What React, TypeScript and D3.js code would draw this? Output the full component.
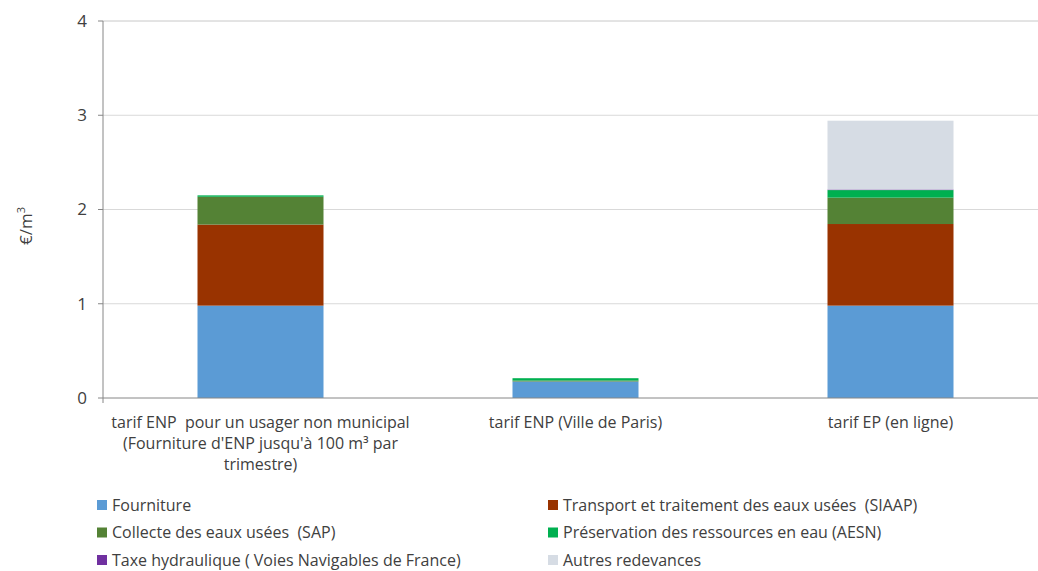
import React from "react";
import * as d3 from "d3";

const categories = [
  ["tarif ENP  pour un usager non municipal", "(Fourniture d'ENP jusqu'à 100 m³ par", "trimestre)"],
  ["tarif ENP (Ville de Paris)"],
  ["tarif EP (en ligne)"],
];
const seriesNames = [
  "Fourniture",
  "Transport et traitement des eaux usées  (SIAAP)",
  "Collecte des eaux usées  (SAP)",
  "Préservation des ressources en eau (AESN)",
  "Taxe hydraulique ( Voies Navigables de France)",
  "Autres redevances",
];
const seriesColors = ["#5B9BD5", "#993300", "#548235", "#00B050", "#7030A0", "#D6DCE4"];
const fourniture = [0.98, 0.175, 0.98];
const transport = [0.86, 0, 0.866];
const collecte = [0.295, 0.01, 0.28];
const preservation = [0.015, 0.025, 0.08];
const taxe = [0, 0, 0.006];
const autres = [0, 0, 0.73];
const yTicks = [0, 1, 2, 3, 4];

const W = 1038, H = 571;
const FONT = "'Open Sans', sans-serif";

export default function App() {
  const series = [fourniture, transport, collecte, preservation, taxe, autres];
  const x = d3.scaleBand<number>().domain([0, 1, 2]).range([103, 1048]).paddingInner(0.6).paddingOuter(0.3);
  const y = d3.scaleLinear().domain([0, 4]).range([398, 21]);
  const data = categories.map((_, i) => {
    const o: Record<string, number> = {};
    series.forEach((s, j) => (o["s" + j] = s[i]));
    return o;
  });
  const stack = d3.stack<Record<string, number>>().keys(series.map((_, j) => "s" + j));
  const stacked = stack(data);
  return (
    <svg width={W} height={H} style={{ position: "absolute", left: 0, top: 0, background: "#fff" }} fontFamily={FONT}>
      {yTicks.map((t) => (
        <g key={t}>
          {t > 0 && <line x1={103} x2={1038} y1={y(t)} y2={y(t)} stroke={t === 4 ? "#c8c8c8" : "#d9d9d9"} strokeWidth={1} />}
          <line x1={98} x2={103} y1={y(t)} y2={y(t)} stroke="#868686" />
          <text x={87} y={y(t)} dy="0.35em" textAnchor="end" fontSize={17} fill="#404040">{t}</text>
        </g>
      ))}
      {stacked.map((layer, j) => (
        <g key={j} fill={seriesColors[j]}>
          {layer.map((d, i) =>
            d[1] - d[0] > 0 ? (
              <rect key={i} x={x(i)} width={x.bandwidth()} y={y(d[1])} height={y(d[0]) - y(d[1])} />
            ) : null
          )}
        </g>
      ))}
      <line x1={103} x2={103} y1={y(4)} y2={y(0)} stroke="#868686" />
      <line x1={103} x2={1038} y1={y(0)} y2={y(0)} stroke="#868686" />
      <line x1={103} x2={103} y1={y(0)} y2={y(0) + 5} stroke="#868686" />
      {categories.map((lines, i) => (
        <text key={i} textAnchor="middle" fontSize={16} fill="#404040">
          {lines.map((l, k) => (
            <tspan key={k} x={x(i)! + x.bandwidth() / 2} y={428 + k * 21} style={{ whiteSpace: "pre" }}>{l}</tspan>
          ))}
        </text>
      ))}
      <text transform={`translate(32,226) rotate(-90)`} textAnchor="middle" fontSize={17} fill="#404040">
        €/m<tspan dy={-7} fontSize={11}>3</tspan>
      </text>
      {seriesNames.map((n, j) => {
        const col = j % 2, row = Math.floor(j / 2);
        const lx = col === 0 ? 97 : 548;
        const ly = 505 + row * 27.5;
        return (
          <g key={j}>
            <rect x={lx} y={ly - 5} width={10} height={10} fill={seriesColors[j]} />
            <text x={lx + 15} y={ly} dy="0.35em" fontSize={16} fill="#404040" style={{ whiteSpace: "pre" }}>{n}</text>
          </g>
        );
      })}
    </svg>
  );
}
